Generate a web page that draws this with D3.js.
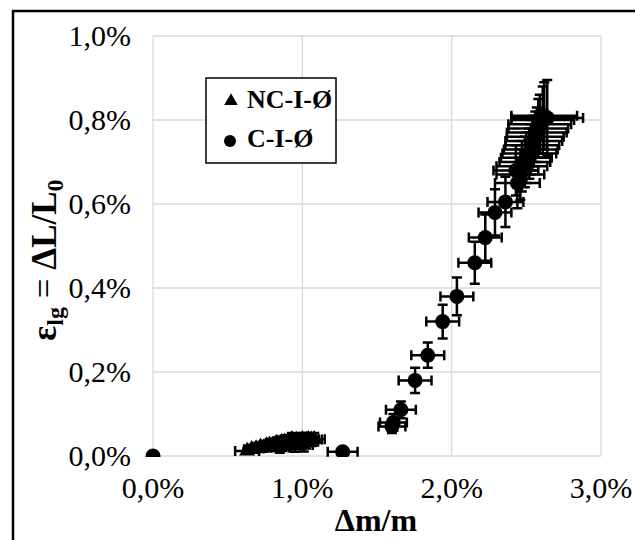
<!DOCTYPE html>
<html>
<head>
<meta charset="utf-8">
<script src="https://cdn.jsdelivr.net/npm/d3@7"></script>
<style>
  body { margin: 0; background: #fff; }
  svg { display: block; font-family: "Liberation Serif", "Times New Roman", serif; }
</style>
</head>
<body>
<svg id="chart" width="635" height="540"></svg>
<script>
// Data (values in %)
const xTicks = [0, 1, 2, 3];
const yTicks = [0, 0.2, 0.4, 0.6, 0.8, 1.0];

// NC-I-Ø : [dm/m, eps, xErr, yErr]
const ncX    = [0.63, 0.66, 0.69, 0.72, 0.74, 0.76, 0.78, 0.80, 0.82, 0.83, 0.85, 0.86, 0.88, 0.90, 0.92, 0.93, 0.95, 0.96, 0.98, 1.00, 1.01, 1.03, 1.04, 1.06, 1.08];
const ncY    = [0.012, 0.016, 0.018, 0.022, 0.020, 0.025, 0.027, 0.024, 0.029, 0.031, 0.020, 0.033, 0.034, 0.030, 0.036, 0.040, 0.024, 0.038, 0.037, 0.040, 0.026, 0.038, 0.040, 0.039, 0.040];
const ncXErr = [0.08, 0.05, 0.05, 0.05, 0.05, 0.05, 0.06, 0.06, 0.06, 0.06, 0.06, 0.06, 0.06, 0.06, 0.06, 0.06, 0.06, 0.06, 0.06, 0.07, 0.06, 0.07, 0.07, 0.07, 0.07];
const ncYErr = [0.006, 0.008, 0.009, 0.010, 0.010, 0.011, 0.012, 0.012, 0.012, 0.013, 0.012, 0.013, 0.014, 0.014, 0.014, 0.015, 0.014, 0.015, 0.015, 0.015, 0.015, 0.015, 0.015, 0.015, 0.015];

// C-I-Ø
const cX    = [0, 1.27, 1.60, 1.61, 1.66, 1.755, 1.84, 1.94, 2.035, 2.155, 2.225, 2.29, 2.36, 2.43,
               2.44, 2.46, 2.47, 2.49, 2.50, 2.52, 2.53, 2.54, 2.55, 2.56, 2.57, 2.58, 2.59, 2.61, 2.62, 2.64];
const cY    = [0, 0.010, 0.070, 0.080, 0.110, 0.180, 0.240, 0.320, 0.380, 0.460, 0.520, 0.580, 0.605, 0.680,
               0.650, 0.670, 0.690, 0.700, 0.710, 0.720, 0.730, 0.740, 0.750, 0.760, 0.770, 0.780, 0.790, 0.800, 0.810, 0.805];
const cXErr = [0, 0.10, 0.09, 0.09, 0.10, 0.11, 0.11, 0.11, 0.11, 0.11, 0.11, 0.11, 0.12, 0.15,
               0.15, 0.16, 0.17, 0.17, 0.17, 0.18, 0.18, 0.18, 0.19, 0.19, 0.20, 0.20, 0.21, 0.21, 0.22, 0.24];
const cYErr = [0, 0.005, 0.015, 0.020, 0.020, 0.030, 0.030, 0.040, 0.045, 0.050, 0.055, 0.055, 0.060, 0.060,
               0.060, 0.060, 0.060, 0.060, 0.060, 0.060, 0.060, 0.060, 0.060, 0.060, 0.060, 0.070, 0.070, 0.080, 0.080, 0.090];

const series = [
    { name: 'NC-I-Ø', marker: 'triangle', xs: ncX, ys: ncY, xe: ncXErr, ye: ncYErr },
    { name: 'C-I-Ø', marker: 'circle', xs: cX, ys: cY, xe: cXErr, ye: cYErr }
];

const svg = d3.select('#chart');

const x = d3.scaleLinear().domain([0, 3]).range([153, 601]);
const y = d3.scaleLinear().domain([0, 1]).range([456, 36]);
const fmt = v => d3.format('.1f')(v).replace('.', ',') + '%';

// outer frame (only top/left visible)
svg.append('path')
    .attr('d', 'M13,540 L13,11 L635,11')
    .attr('fill', 'none')
    .attr('stroke', '#000')
    .attr('stroke-width', 2.5);

// gridlines
const grid = svg.append('g').attr('class', 'grid');
grid.selectAll('.hg').data(yTicks).enter().append('line')
    .attr('x1', x(0)).attr('x2', x(3))
    .attr('y1', d => y(d)).attr('y2', d => y(d))
    .attr('stroke', '#d9d9d9').attr('stroke-width', 1.3);
grid.selectAll('.vg').data(xTicks).enter().append('line')
    .attr('y1', y(0)).attr('y2', y(1))
    .attr('x1', d => x(d)).attr('x2', d => x(d))
    .attr('stroke', '#d9d9d9').attr('stroke-width', 1.3);

// tick labels
svg.append('g').selectAll('text').data(yTicks).enter().append('text')
    .attr('x', 131)
    .attr('y', d => y(d) + 10)
    .attr('text-anchor', 'end')
    .attr('font-size', 30)
    .text(fmt);

svg.append('g').selectAll('text').data(xTicks).enter().append('text')
    .attr('x', d => x(d))
    .attr('y', 498)
    .attr('text-anchor', 'middle')
    .attr('font-size', 30)
    .text(fmt);

// axis titles
svg.append('text')
    .attr('x', 376).attr('y', 531)
    .attr('text-anchor', 'middle')
    .attr('font-size', 32).attr('font-weight', 'bold')
    .text('Δm/m');

const yt = svg.append('text')
    .attr('transform', 'translate(56,260) rotate(-90)')
    .attr('text-anchor', 'middle')
    .attr('font-size', 35).attr('font-weight', 'bold');
yt.append('tspan').text('ε');
yt.append('tspan').attr('font-size', 24).attr('dy', 7).text('lg');
yt.append('tspan').attr('dy', -7).attr('font-weight', 'normal').text(' = ');
yt.append('tspan').text('ΔL/L');
yt.append('tspan').attr('font-size', 24).attr('dy', 7).text('0');

// clip for marks
svg.append('defs').append('clipPath').attr('id', 'plotclip')
    .append('rect').attr('x', 0).attr('y', 0).attr('width', 635).attr('height', y(0) + 1);

const marks = svg.append('g').attr('clip-path', 'url(#plotclip)');
const cap = 5;
const triangle = d3.symbol().type(d3.symbolTriangle).size(110);

series.forEach(s => {
    const pts = s.xs.map((v, i) => ({ x: v, y: s.ys[i], xe: s.xe[i], ye: s.ye[i] }));
    const g = marks.append('g').attr('class', 'series');

    // error bars
    g.selectAll('.err').data(pts.filter(d => d.xe > 0 || d.ye > 0)).enter()
        .append('path')
        .attr('class', 'err')
        .attr('fill', 'none')
        .attr('stroke', '#000')
        .attr('stroke-width', 2.5)
        .attr('d', d => {
            const cx = x(d.x), cy = y(d.y);
            const xl = x(d.x - d.xe), xr = x(d.x + d.xe);
            const yt = y(d.y + d.ye), yb = y(d.y - d.ye);
            return `M${xl},${cy}H${xr}` +
                `M${xl},${cy - cap}V${cy + cap}M${xr},${cy - cap}V${cy + cap}` +
                `M${cx},${yt}V${yb}` +
                `M${cx - cap},${yt}H${cx + cap}M${cx - cap},${yb}H${cx + cap}`;
        });

    // markers
    if (s.marker === 'circle') {
        g.selectAll('.pt').data(pts).enter().append('circle')
            .attr('cx', d => x(d.x)).attr('cy', d => y(d.y))
            .attr('r', 7.5).attr('fill', '#000');
    } else {
        g.selectAll('.pt').data(pts).enter().append('path')
            .attr('d', triangle)
            .attr('transform', d => `translate(${x(d.x)},${y(d.y)})`)
            .attr('fill', '#000');
    }
});

// legend
const lg = svg.append('g').attr('class', 'legend');
lg.append('rect')
    .attr('x', 206).attr('y', 78).attr('width', 130).attr('height', 85)
    .attr('fill', '#fff').attr('stroke', '#000').attr('stroke-width', 1.5);
lg.append('path')
    .attr('d', d3.symbol().type(d3.symbolTriangle).size(80))
    .attr('transform', 'translate(231,101)');
lg.append('circle').attr('cx', 230).attr('cy', 141).attr('r', 6);
lg.selectAll('text').data(series).enter().append('text')
    .attr('x', 247)
    .attr('y', (d, i) => 108 + i * 39)
    .attr('font-size', 26).attr('font-weight', 'bold')
    .text(d => d.name);
</script>
</body>
</html>
